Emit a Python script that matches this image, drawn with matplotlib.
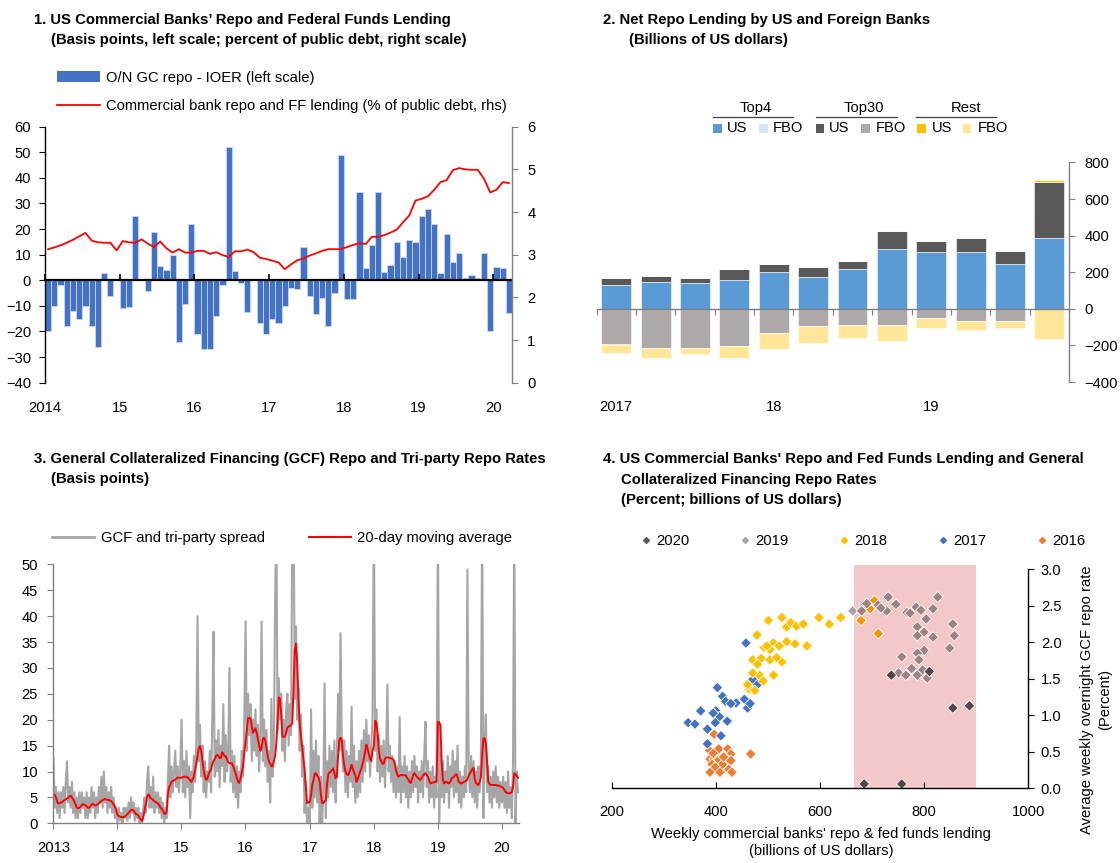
#!/usr/bin/env python
# coding: utf-8
# 4-panel repo market chart (US bank repo lending / GCF rates)

import numpy as np
import pandas as pd
import matplotlib
matplotlib.use('Agg')
import matplotlib.pyplot as plt
import matplotlib.colors as mcolors
from matplotlib.patches import Patch, Rectangle
from matplotlib.lines import Line2D

plt.rcParams['font.family'] = ['Liberation Sans', 'DejaVu Sans']
plt.rcParams['font.size'] = 10.6
plt.rcParams['axes.linewidth'] = 1.0

W, H = 1120, 863

# ---------------- panel 1: monthly, Jan 2014 - Mar 2020 ----------------
p1_year_labels = ['2014', '15', '16', '17', '18', '19', '20']
gc_ioer = [-20, -10, -2, -18, -12, -15, -10, -17.7, -26, 3, -6, 0,
           -11, -10.5, 25, 0, -4, 19, 5.5, 4, 10, -24, -9.2, 22,
           -21, -27, -27, -14, -2, 52, 3.5, -1, -12.5, 0, -16.5, -21,
           -15, -16.5, -10, -3, -3.5, 13, -6, -13, -6.8, -17.7, -4.8, 49,
           -7.4, -7.4, 34.4, 4.7, 13.7, 34.4, 3.4, 6, 15, 9.2, 15.8, 15,
           25.3, 27.7, 22, 2.7, 18.2, 7.3, 10.5, 1, 2, 1, 10.5, -19.7,
           5.3, 4.7, -12.6]
ff_share = [3.13, 3.17, 3.22, 3.28, 3.35, 3.43, 3.51, 3.33, 3.29, 3.28, 3.28, 3.10,
            3.32, 3.29, 3.28, 3.36, 3.26, 3.18, 3.31, 3.15, 3.05, 3.13, 3.05, 3.05,
            3.09, 3.09, 3.02, 3.06, 2.99, 2.95, 3.08, 3.08, 3.12, 3.06, 2.93, 2.90,
            2.86, 2.82, 2.66, 2.77, 2.87, 2.91, 2.98, 3.03, 3.09, 3.13, 3.13, 3.13,
            3.18, 3.23, 3.27, 3.25, 3.42, 3.42, 3.46, 3.52, 3.59, 3.76, 3.92, 4.27,
            4.31, 4.37, 4.52, 4.70, 4.75, 4.98, 5.03, 5.00, 4.99, 4.99, 4.78, 4.46,
            4.52, 4.70, 4.68]

# ---------------- panel 2: quarterly 2017Q1 - 2019Q4 ----------------
quarters = ['2017Q1', '2017Q2', '2017Q3', '2017Q4', '2018Q1', '2018Q2',
            '2018Q3', '2018Q4', '2019Q1', '2019Q2', '2019Q3', '2019Q4']
top4_us = [131, 149, 140, 158, 204, 173, 218, 328, 309, 309, 246, 389]
top4_fbo = [0, 0, 0, 0, 0, 0, 0, 0, 0, 0, 0, 0]
top30_us = [36, 33, 27, 60, 42, 54, 46, 98, 62, 80, 72, 306]
top30_fbo = [-191, -215, -215, -204, -133, -95, -87, -87, -51, -69, -69, -3]
rest_us = [-5, 0, 0, 0, 0, 0, 0, 0, 0, 0, 0, 9]
rest_fbo = [-44, -52, -34, -63, -89, -91, -71, -90, -53, -46, -35, -164]

# ---------------- panel 3: weekly readings, 2013 - Apr 2020 ----------------
p3_year_labels = ['2013', '14', '15', '16', '17', '18', '19', '20']
spread_2013 = [12.5, 3, 7, 2, 6, 1, 6, 3, 7, 2, 8, 12, 4,
               7, 3, 8, 2, 6, 1, 5, 1, 6, 2, 6, 3, 5,
               1, 6, 1, 5, 2, 7, 3, 6, 1, 5, 2, 7, 4,
               9, 3, 10, 4, 7, 2, 6, 3, 7, 2, 5, 1, 3]
ma_2013 = [5.6, 5.5, 5.0, 4.2, 3.8, 3.9, 4.0, 4.1, 4.3, 4.5, 4.6, 4.8, 4.9,
           5.2, 5.3, 5.0, 4.6, 4.2, 3.6, 3.0, 2.9, 3.0, 3.2, 3.5, 3.7, 3.6,
           3.5, 3.3, 3.0, 3.0, 3.3, 3.6, 3.8, 3.6, 3.4, 3.5, 3.7, 3.9, 4.1,
           4.3, 4.5, 4.6, 4.7, 4.6, 4.5, 4.5, 4.4, 4.3, 4.0, 3.6, 3.2, 2.6]
spread_2014 = [0, 3, 0.5, 2, 0, 3, 1, 3, 0.5, 4, 1, 5, 2,
               4, 0.5, 3, 1, 3, 0, 2, 0, 3, 5, 2, 8, 11,
               3, 7, 3, 9, 2, 6, 3, 6, 2, 5, 1, 4, 0,
               3, 1, 8, 15, 5, 11, 6, 10, 14, 7, 11, 6, 10]
ma_2014 = [1.6, 1.4, 1.3, 1.2, 1.2, 1.2, 1.3, 1.5, 1.8, 2.0, 2.3, 2.6, 2.6,
           2.5, 2.1, 1.8, 1.7, 1.5, 1.0, 0.7, 0.5, 1.2, 2.5, 3.8, 5.0, 5.6,
           5.3, 4.8, 4.7, 4.5, 4.3, 4.1, 4.0, 3.8, 3.5, 3.0, 2.8, 2.4, 1.9,
           1.8, 2.3, 5.5, 7.0, 7.5, 8.0, 8.2, 8.3, 8.4, 8.7, 8.8, 8.8, 8.8]
spread_2015 = [20, 6, 12, 5, 14, 7, 11, 1, 10, 6, 13, 8, 16,
               40, 12, 19, 9, 15, 6, 12, 5, 10, 8, 14, 6, 20,
               37, 9, 16, 10, 18, 7, 15, 11, 23, 8, 17, 10, 13,
               30, 8, 14, 6, 13, 5, 11, 3, 10, 6, 14, 9, 19]
ma_2015 = [8.8, 8.9, 9.0, 9.0, 9.0, 8.8, 8.6, 8.3, 8.0, 8.5, 9.0, 10.2, 11.5,
           13.0, 14.7, 14.9, 14.0, 12.0, 10.3, 9.0, 8.4, 8.6, 9.5, 10.0, 10.4, 11.4,
           12.0, 12.4, 13.0, 13.2, 13.0, 12.6, 12.6, 13.7, 13.4, 13.0, 12.9, 12.3, 11.8,
           11.6, 11.6, 11.6, 11.0, 10.3, 9.6, 8.8, 8.0, 7.8, 8.6, 9.8, 11.0, 13.5]
spread_2016 = [39, 14, 25, 17, 23, 12, 20, 14, 22, 13, 19, 10, 17,
               39, 12, 20, 11, 18, 8, 14, 4, 24, 9, 15, 42.5, 60,
               18, 28, 20, 25, 14, 20, 12, 22, 25, 15, 23, 17, 60,
               65, 24, 38, 20, 26, 14, 21, 9, 15, 2, 8, 0, 3]
ma_2016 = [15.8, 18.0, 20.3, 20.3, 20.3, 18.8, 17.5, 17.9, 18.3, 17.5, 16.2, 15.0, 14.0,
           14.5, 16.3, 16.5, 16.0, 14.5, 13.0, 11.9, 11.5, 11.0, 11.0, 12.0, 13.0, 15.5,
           19.5, 24.3, 24.0, 21.0, 16.7, 16.7, 16.7, 17.5, 18.5, 18.7, 18.7, 19.0, 19.3,
           26.0, 33.5, 34.7, 31.0, 24.0, 19.5, 16.8, 14.8, 12.5, 10.5, 7.0, 3.9, 4.0]
spread_2017 = [0, 22, 3, 14, 5, 16, 4, 13, 0, 9, 0, 6, 27,
               1, 12, 5, 15, 7, 14, 6, 16, 4, 12, 25, 14, 36.7,
               16, 10, 16, 6, 14, 5, 13, 8, 22.5, 7, 15, 4, 12,
               5, 14, 6, 16, 8, 18, 10, 20, 12, 17, 9, 15, 20]
ma_2017 = [4.1, 5.5, 7.4, 8.5, 9.5, 9.7, 9.2, 8.8, 8.0, 5.5, 3.9, 3.9, 4.2,
           4.5, 7.5, 9.5, 9.8, 10.0, 10.3, 10.6, 9.7, 8.7, 9.0, 13.0, 16.1, 16.5,
           16.1, 13.0, 11.2, 10.0, 9.5, 9.3, 9.7, 10.5, 11.3, 10.5, 9.8, 9.3, 8.0,
           8.5, 9.3, 10.0, 10.6, 11.5, 12.5, 13.8, 15.2, 14.5, 13.3, 12.5, 12.0, 14.0]
spread_2018 = [60, 14, 22, 10, 17, 8, 15, 9, 16, 7, 14, 26.8, 10,
               15, 8, 13, 6, 12, 5, 11, 6, 20.5, 4, 11, 6, 13,
               5, 11, 3, 10, 5, 12, 6, 13, 7, 11, 4, 10, 6,
               12, 5, 13, 19.6, 7, 12, 4, 10, 5, 11, 3, 9, 5]
ma_2018 = [15.0, 19.8, 19.5, 17.5, 14.0, 12.5, 12.0, 11.5, 11.5, 12.5, 12.7, 12.7, 12.7,
           12.6, 12.5, 12.5, 12.2, 11.5, 10.2, 9.5, 9.0, 9.2, 9.3, 9.3, 9.3, 9.3,
           9.2, 8.8, 8.5, 8.0, 7.8, 8.5, 9.3, 9.7, 9.3, 9.0, 8.8, 8.5, 8.4,
           8.8, 9.2, 9.5, 9.7, 9.3, 9.0, 8.3, 7.7, 7.8, 7.9, 7.9, 8.0, 8.0]
spread_2019 = [60, 0, 14, 5, 12, 4, 10, 6, 13, 3, 11, 7, 14,
               5, 12, 6, 15, 4, 10, 3, 9, 5, 11, 6, 49, 12,
               6, 13, 5, 12, 4, 10, 3, 11, 6, 12, 60, 1, 14,
               21, 6, 11, 4, 9, 3, 10, 5, 11, 4, 9, 3, 8]
ma_2019 = [19.6, 19.5, 19.0, 12.0, 8.5, 7.7, 7.9, 8.0, 7.8, 7.7, 8.0, 8.6, 8.8,
           9.0, 9.3, 9.5, 8.9, 8.0, 7.8, 7.7, 7.8, 8.0, 8.1, 8.2, 8.5, 9.2,
           9.7, 10.0, 10.5, 10.7, 8.5, 7.8, 7.5, 7.4, 8.0, 9.0, 13.0, 16.4, 16.4,
           15.5, 12.0, 8.0, 7.6, 7.4, 7.4, 7.4, 7.4, 7.4, 7.3, 7.3, 7.2, 7.1]
spread_2020 = [4, 9, 3, 8, 2, 10, 3, 7, 1, 12, 60, 0, 10, 6]
ma_2020 = [7.0, 6.8, 6.4, 6.0, 5.9, 5.8, 5.8, 5.9, 6.0, 7.0, 9.7, 9.5, 9.2, 8.8]

# ---------------- panel 4: weekly scatter by year ----------------
x2020 = [737, 810, 855, 887, 685, 757]
y2020 = [1.55, 1.60, 1.10, 1.13, 0.06, 0.06]
x2019 = [663, 680, 690, 712, 728, 731, 746, 767, 785, 794, 817, 826, 804, 787, 800, 787,
         817, 855, 858, 849, 800, 787, 790, 757, 776, 797, 751, 765, 787, 806, 717, 773]
y2019 = [2.43, 2.43, 2.53, 2.51, 2.43, 2.62, 2.52, 2.41, 2.48, 2.44, 2.46, 2.62, 2.32, 2.21, 2.14, 2.09,
         2.07, 2.25, 2.09, 1.92, 1.89, 1.85, 1.76, 1.80, 1.64, 1.62, 1.58, 1.55, 1.55, 1.51, 2.47, 2.40]
x2018 = [501, 527, 536, 544, 555, 568, 598, 618, 640, 479, 511, 522, 536, 552, 575, 493, 504,
         471, 487, 504, 527, 480, 511, 484, 471, 491, 464, 475, 461, 517, 498, 679, 696, 705, 712]
y2018 = [2.30, 2.34, 2.21, 2.27, 2.22, 2.25, 2.34, 2.25, 2.34, 2.10, 1.99, 1.95, 2.01, 1.98, 1.95, 1.93, 1.90,
         1.76, 1.78, 1.76, 1.73, 1.70, 1.55, 1.55, 1.58, 1.47, 1.36, 1.34, 1.42, 1.79, 1.95, 2.30, 2.46, 2.57, 2.12]
x2017 = [458, 403, 413, 419, 439, 455, 461, 371, 400, 407, 422, 347, 360, 384, 410, 384, 471, 480, 429, 395, 399, 466]
y2017 = [1.99, 1.38, 1.26, 1.19, 1.17, 1.22, 1.10, 1.06, 1.06, 0.98, 0.92, 0.90, 0.88, 0.81, 0.72, 0.61,
         1.49, 1.42, 1.16, 1.03, 0.90, 1.16]
x2016 = [397, 467, 388, 406, 423, 429, 389, 397, 406, 421, 429, 393, 413, 399, 425, 389, 408, 431, 395, 415]
y2016 = [0.74, 0.47, 0.52, 0.54, 0.54, 0.47, 0.40, 0.40, 0.39, 0.40, 0.38, 0.33, 0.33, 0.29, 0.26,
         0.22, 0.22, 0.22, 0.48, 0.43]
shade_lo, shade_hi = 665, 900   # highlighted lending range
PINK = '#F2C8CA'


def fx(px):
    return px / W


def fy(py):
    return 1 - py / H


def add_axes_px(fig, left, top, right, bottom):
    return fig.add_axes([left / W, 1 - bottom / H, (right - left) / W, (bottom - top) / H])


def weekly_dates(year, n):
    return pd.date_range(f'{year}-01-02', periods=n, freq='7D')


def multiply(c, other):
    a = np.array(mcolors.to_rgb(c))
    b = np.array(mcolors.to_rgb(other))
    return tuple(a * b)


def title(lines):
    for x, y, s in lines:
        fig.text(fx(x), fy(y), s, fontweight='bold', ha='left', va='center', fontsize=10.75)


fig = plt.figure(figsize=(W / 100, H / 100), dpi=100)

# ================= panel 1 =================
title([(34, 20, '1. US Commercial Banks’ Repo and Federal Funds Lending'),
       (51, 40, '(Basis points, left scale; percent of public debt, right scale)')])
ax1 = add_axes_px(fig, 45, 126.7, 512, 382.7)
n1 = len(gc_ioer)
xm = np.arange(n1) + 0.5
ax1.bar(xm, gc_ioer, width=1.0, color='#4472C4', edgecolor='#C9D6EF', linewidth=0.6, zorder=2)
ax1.set_xlim(0, n1)
ax1.set_ylim(-40, 60)
ax1.set_yticks(np.arange(-40, 61, 10))
yr_ticks1 = np.arange(0, n1, 12)
ax1.set_xticks(yr_ticks1, p1_year_labels)
ax1.tick_params(axis='x', length=0, pad=13)
ax1.tick_params(axis='y', direction='out', length=4, pad=6)
for s in ['top', 'right', 'bottom']:
    ax1.spines[s].set_visible(False)
sec1 = ax1.secondary_xaxis(40 / 100)
sec1.set_xticks(yr_ticks1)
sec1.tick_params(direction='in', length=4, width=1.2, labelbottom=False)
sec1.spines['bottom'].set_linewidth(1.6)
sec1.set_zorder(3)

ax1r = ax1.twinx()
ax1r.plot(xm, ff_share, color='#FF0000', lw=1.3)
ax1r.set_ylim(0, 6)
ax1r.set_yticks(range(0, 7))
for s in ['top', 'left', 'bottom']:
    ax1r.spines[s].set_visible(False)
ax1r.spines['right'].set_color('#808080')
ax1r.tick_params(axis='y', direction='out', length=4, color='#808080', pad=7)

fig.legend(handles=[Patch(facecolor='#4472C4', edgecolor='none'),
                    Line2D([], [], color='#FF0000', lw=1.3)],
           labels=['O/N GC repo - IOER (left scale)',
                   'Commercial bank repo and FF lending (% of public debt, rhs)'],
           loc='center left', bbox_to_anchor=(fx(57), fy(91.7)), frameon=False,
           borderpad=0, borderaxespad=0, handlelength=2.9, handletextpad=0.4,
           labelspacing=0.95, fontsize=10.6)

# ================= panel 2 =================
title([(603, 20, '2. Net Repo Lending by US and Foreign Banks'),
       (629, 40, '(Billions of US dollars)')])
ax2 = add_axes_px(fig, 596.6, 162.5, 1069, 382)
x2 = np.arange(len(quarters)) + 0.5
stack = [(top4_us, '#5B9BD5'), (top4_fbo, '#DAE3F3'), (top30_us, '#595959'),
         (top30_fbo, '#AEAAAA'), (rest_us, '#FFC000'), (rest_fbo, '#FFE699')]
pos_base = np.zeros(len(quarters))
neg_base = np.zeros(len(quarters))
for vals, col in stack:
    v = np.array(vals, dtype=float)
    p = np.where(v > 0, v, 0)
    q = np.where(v < 0, v, 0)
    ax2.bar(x2, p, 0.76, bottom=pos_base, color=col, edgecolor='white', linewidth=0.4)
    ax2.bar(x2, q, 0.76, bottom=neg_base, color=col, edgecolor='white', linewidth=0.4)
    pos_base += p
    neg_base += q
ax2.set_xlim(0, len(quarters))
ax2.set_ylim(-400, 800)
ax2.yaxis.tick_right()
ax2.set_yticks(np.arange(-400, 801, 200))
for s in ['top', 'left', 'bottom']:
    ax2.spines[s].set_visible(False)
ax2.spines['right'].set_color('#808080')
ax2.tick_params(axis='y', direction='out', length=4, color='#808080', pad=7)
q1_idx = [i for i, q in enumerate(quarters) if q.endswith('Q1')]
q1_lab = [quarters[i][:4] if i == 0 else quarters[i][2:4] for i in q1_idx]
ax2.set_xticks(x2[q1_idx], q1_lab)
ax2.tick_params(axis='x', length=0, pad=13)
sec2 = ax2.secondary_xaxis(400 / 1200)
sec2.set_xticks(np.arange(0, len(quarters) + 1))
sec2.tick_params(direction='out', length=4, color='#808080', labelbottom=False)
sec2.spines['bottom'].set_color('#808080')
sec2.set_zorder(3)

# grouped legend drawn in figure coordinates
groups = [('Top4', 755.9, 712.8, 792.8, [(713.4, 726.6, '#5B9BD5', 'US'), (759, 773, '#DAE3F3', 'FBO')]),
          ('Top30', 863.4, 816, 896.6, [(815.5, 829, '#595959', 'US'), (861, 875.5, '#AEAAAA', 'FBO')]),
          ('Rest', 965.5, 916, 996, [(917, 931.7, '#FFC000', 'US'), (962.8, 978, '#FFE699', 'FBO')])]
for name, cx, l0, l1, items in groups:
    fig.text(fx(cx), fy(108), name, ha='center', va='center', fontsize=10.6)
    fig.add_artist(Line2D([fx(l0), fx(l1)], [fy(116.6), fy(116.6)], color='#404040', lw=0.9,
                          transform=fig.transFigure))
    for sx, tx, col, lab in items:
        fig.add_artist(Rectangle((fx(sx), fy(132.8)), 8.6 / W, 8.6 / H, facecolor=col,
                                 edgecolor='none', transform=fig.transFigure))
        fig.text(fx(tx), fy(128.5), lab, ha='left', va='center', fontsize=10.6)

# ================= panel 3 =================
title([(34, 459, '3. General Collateralized Financing (GCF) Repo and Tri-party Repo Rates'),
       (51, 479, '(Basis points)')])
spread_years = [spread_2013, spread_2014, spread_2015, spread_2016, spread_2017,
                spread_2018, spread_2019, spread_2020]
ma_years = [ma_2013, ma_2014, ma_2015, ma_2016, ma_2017, ma_2018, ma_2019, ma_2020]
years3 = list(range(2013, 2021))
for s_, m_ in zip(spread_years, ma_years):
    assert len(s_) == len(m_)
dates3 = np.concatenate([weekly_dates(y, len(s_)) for y, s_ in zip(years3, spread_years)])
spread = np.concatenate(spread_years)
ma20 = np.concatenate(ma_years)

ax3 = add_axes_px(fig, 53.3, 564.3, 519, 823.3)
ax3.plot(dates3, spread, color='#A6A6A6', lw=1.5)
ax3.plot(dates3, ma20, color='#FF0000', lw=1.4)
ax3.set_ylim(0, 50)
ax3.set_yticks(np.arange(0, 51, 5))
ax3.set_xlim(pd.Timestamp('2013-01-01'), pd.Timestamp('2020-04-08'))
ax3.set_xticks([pd.Timestamp(f'{y}-01-01') for y in years3], p3_year_labels)
for s in ['top', 'right']:
    ax3.spines[s].set_visible(False)
for s in ['left', 'bottom']:
    ax3.spines[s].set_color('#808080')
ax3.tick_params(direction='out', length=4, color='#808080')
ax3.tick_params(axis='x', pad=9)
ax3.tick_params(axis='y', pad=7)

fig.legend(handles=[Line2D([], [], color='#A6A6A6', lw=2),
                    Line2D([], [], color='#FF0000', lw=1.5)],
           labels=['GCF and tri-party spread', '20-day moving average'],
           ncol=2, loc='center left', bbox_to_anchor=(fx(52), fy(538.3)), frameon=False,
           borderpad=0, borderaxespad=0, handlelength=2.85, handletextpad=0.45,
           columnspacing=3.0, fontsize=10.6)

# ================= panel 4 =================
title([(603, 458.5, "4. US Commercial Banks' Repo and Fed Funds Lending and General"),
       (621, 479.5, 'Collateralized Financing Repo Rates'),
       (621, 500, '(Percent; billions of US dollars)')])
ax4 = add_axes_px(fig, 611.6, 569.3, 1028.3, 788.3)
ax4.add_patch(Rectangle((shade_lo, 0), shade_hi - shade_lo, 3.06, facecolor=PINK,
                        edgecolor='none', clip_on=False, zorder=0))
scat = [('2016', x2016, y2016, '#ED7D31'), ('2017', x2017, y2017, '#4472C4'),
        ('2018', x2018, y2018, '#FFC000'), ('2019', x2019, y2019, '#A5A5A5'),
        ('2020', x2020, y2020, '#595959')]
for lab, xs, ys, col in scat:
    cols = [multiply(col, PINK) if shade_lo <= xv <= shade_hi else mcolors.to_rgb(col) for xv in xs]
    ax4.scatter(xs, ys, marker='D', s=30, c=cols, edgecolors='white', linewidths=0.6, zorder=2)
ax4.set_xlim(200, 1000)
ax4.set_ylim(0, 3)
ax4.set_xticks(np.arange(200, 1001, 200))
ax4.yaxis.tick_right()
ax4.set_yticks(np.arange(0, 3.01, 0.5), [f'{v:.1f}' for v in np.arange(0, 3.01, 0.5)])
for s in ['top', 'left']:
    ax4.spines[s].set_visible(False)
ax4.tick_params(axis='x', direction='in', length=4, pad=12)
ax4.tick_params(axis='y', direction='out', length=4, pad=5)
fig.text(fx(821), fy(842.5), "Weekly commercial banks' repo & fed funds lending\n(billions of US dollars)",
         ha='center', va='center', multialignment='center', fontsize=10.6, linespacing=1.3)
fig.text(fx(1096), fy(700), 'Average weekly overnight GCF repo rate\n(Percent)',
         ha='center', va='center', multialignment='center', rotation=90, fontsize=10.6,
         linespacing=1.3)

leg_order = [s for s in scat[::-1]]
fig.legend(handles=[Line2D([], [], marker='D', ls='none', color=c, markersize=3) for _, _, _, c in leg_order],
           labels=[l for l, _, _, _ in leg_order],
           ncol=5, loc='center left', bbox_to_anchor=(fx(641.6), fy(540.7)), frameon=False,
           borderpad=0, borderaxespad=0, handlelength=0.6, handletextpad=0.42,
           columnspacing=3.45, fontsize=10.6)

fig.savefig('out.png', dpi=100)
